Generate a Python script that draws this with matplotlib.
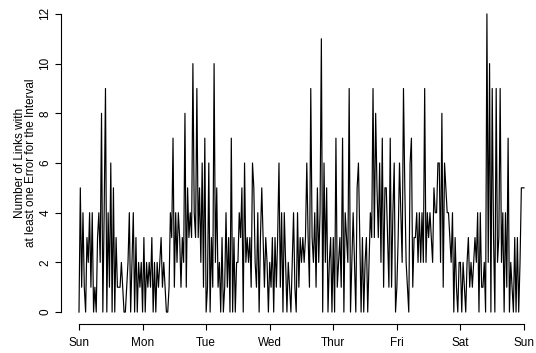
import numpy as np
import matplotlib
matplotlib.use("Agg")
import matplotlib.pyplot as plt

plt.rcParams['font.family'] = ['Liberation Sans', 'DejaVu Sans']

# half-hourly counts, one list per day (48 values each)
sun = [0, 5, 1, 4, 1, 0, 3, 2, 4, 1, 4, 0, 1, 0, 3, 4, 2, 8, 0, 4,
       9, 0, 4, 1, 6, 0, 5, 0, 3, 1, 1, 1, 2, 1, 0, 0, 1, 2, 4, 0,
       2, 4, 0, 3, 0, 2, 1, 2]
mon = [0, 3, 0, 2, 1, 2, 1, 3, 0, 2, 0, 2, 1, 2, 3, 1, 2, 1, 0, 0,
       1, 4, 3, 7, 1, 4, 2, 4, 3, 1, 3, 2, 8, 1, 5, 3, 4, 3, 10, 4,
       3, 9, 3, 5, 2, 6, 1, 7]
tue = [0, 1, 6, 0, 3, 1, 10, 2, 5, 1, 2, 0, 3, 0, 1, 4, 1, 3, 0, 7,
       0, 3, 0, 2, 2, 4, 3, 5, 0, 6, 2, 3, 2, 3, 1, 6, 5, 2, 1, 4,
       0, 3, 5, 3, 1, 3, 2, 0]
wed = [2, 1, 3, 0, 3, 1, 3, 6, 1, 4, 0, 4, 2, 0, 2, 1, 0, 2, 4, 1,
       0, 4, 1, 3, 2, 3, 2, 3, 6, 3, 1, 9, 3, 2, 4, 1, 5, 2, 4, 11,
       0, 6, 2, 5, 0, 2, 3, 0]
thu = [3, 0, 7, 1, 2, 3, 1, 7, 0, 4, 3, 2, 9, 0, 2, 4, 2, 0, 5, 6,
       3, 0, 3, 0, 2, 3, 0, 2, 4, 3, 9, 3, 8, 5, 3, 6, 2, 7, 1, 5,
       5, 3, 1, 7, 1, 4, 6, 0]
fri = [1, 3, 6, 4, 2, 9, 5, 2, 1, 0, 6, 7, 1, 3, 3, 4, 2, 4, 2, 4,
       2, 9, 2, 4, 3, 4, 3, 2, 5, 4, 4, 6, 6, 2, 8, 1, 6, 5, 4, 4,
       3, 2, 4, 0, 3, 1, 0, 2]
sat = [2, 0, 2, 1, 0, 2, 3, 1, 2, 1, 2, 3, 2, 4, 0, 4, 1, 1, 2, 0,
       12, 2, 10, 0, 9, 3, 0, 9, 2, 3, 9, 2, 4, 0, 4, 1, 7, 0, 2, 1,
       0, 3, 0, 3, 0, 2, 5, 5]
last = [5]

day_labels = ["Sun", "Mon", "Tue", "Wed", "Thur", "Fri", "Sat", "Sun"]
y_ticks = [0, 2, 4, 6, 8, 10, 12]

counts = np.array(sun + mon + tue + wed + thu + fri + sat + last)
t = np.arange(len(counts)) / 48.0

fig = plt.figure(figsize=(5.36, 3.53), dpi=100)
ax = fig.add_axes([61.2 / 536, 29 / 353, 480.6 / 536, 322 / 353])
ax.plot(t, counts, color="black", linewidth=0.85)

ax.set_xlim(-0.28, 7.28)
ax.set_ylim(-0.48, 12.48)
for s in ["top", "right"]:
    ax.spines[s].set_visible(False)
ax.spines["left"].set_bounds(0, 12)
ax.spines["bottom"].set_bounds(0, 7)
ax.spines["left"].set_linewidth(0.8)
ax.spines["bottom"].set_linewidth(0.8)

ax.set_xticks(range(len(day_labels)))
ax.set_xticklabels(day_labels, fontsize=8.5)
ax.set_yticks(y_ticks)
ax.set_yticklabels([str(v) for v in y_ticks], fontsize=8.5, rotation=90,
                   va="center")
ax.tick_params(axis="both", length=4, width=0.8)
ax.tick_params(axis="y", pad=3)
ax.tick_params(axis="x", pad=5)

ax.set_ylabel("Number of Links with\nat least one Error for the Interval",
              fontsize=8.5, linespacing=0.85, labelpad=2)

fig.savefig("out.png", dpi=100)
